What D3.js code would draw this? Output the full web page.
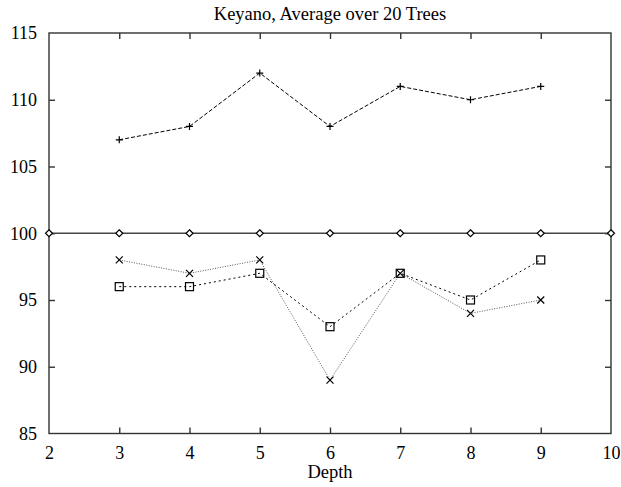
<!DOCTYPE html>
<html>
<head>
<meta charset="utf-8">
<script src="https://cdn.jsdelivr.net/npm/d3@7"></script>
<style>
  html, body { margin: 0; padding: 0; background: #fff; }
  svg { display: block; }
  text { font-family: "Liberation Serif", "Times New Roman", serif; fill: #000; }
</style>
</head>
<body>
<svg id="chart" width="621" height="487"></svg>
<script>
// Chart data
const title = "Keyano, Average over 20 Trees";
const xLabel = "Depth";
const depths = [3, 4, 5, 6, 7, 8, 9];
const baselineDepths = [2, 3, 4, 5, 6, 7, 8, 9, 10];
const baselineValues = [100, 100, 100, 100, 100, 100, 100, 100, 100];
const plusValues = [107, 108, 112, 108, 111, 110, 111];
const crossValues = [98, 97, 98, 89, 97, 94, 95];
const squareValues = [96, 96, 97, 93, 97, 95, 98];
const xTicks = [2, 3, 4, 5, 6, 7, 8, 9, 10];
const yTicks = [85, 90, 95, 100, 105, 110, 115];

const svg = d3.select("#chart");
const plotLeft = 49, plotRight = 611, plotTop = 33, plotBottom = 433.5;

const x = d3.scaleLinear().domain([2, 10]).range([plotLeft, plotRight]);
const y = d3.scaleLinear().domain([85, 115]).range([plotBottom, plotTop]);

const axisColor = "#333";
const tickLen = 6;

// Frame
svg.append("rect")
  .attr("x", plotLeft).attr("y", plotTop)
  .attr("width", plotRight - plotLeft).attr("height", plotBottom - plotTop)
  .attr("fill", "none").attr("stroke", axisColor).attr("stroke-width", 1.4);

// Axes with inward ticks, mirrored on the opposite side
const gBottom = svg.append("g").attr("transform", `translate(0,${plotBottom})`)
  .call(d3.axisBottom(x).tickValues(xTicks).tickFormat(d3.format("d"))
    .tickSizeInner(-tickLen).tickSizeOuter(0).tickPadding(13));
const gTop = svg.append("g").attr("transform", `translate(0,${plotTop})`)
  .call(d3.axisTop(x).tickValues(xTicks).tickFormat("")
    .tickSizeInner(-tickLen).tickSizeOuter(0));
const gLeft = svg.append("g").attr("transform", `translate(${plotLeft},0)`)
  .call(d3.axisLeft(y).tickValues(yTicks).tickFormat(d3.format("d"))
    .tickSizeInner(-tickLen).tickSizeOuter(0).tickPadding(12));
const gRight = svg.append("g").attr("transform", `translate(${plotRight},0)`)
  .call(d3.axisRight(y).tickValues(yTicks).tickFormat("")
    .tickSizeInner(-tickLen).tickSizeOuter(0));

[gBottom, gTop, gLeft, gRight].forEach(g => {
  g.select(".domain").remove();
  g.selectAll(".tick line").attr("stroke", axisColor).attr("stroke-width", 1.4);
  g.selectAll(".tick text")
    .style("font-family", "'Liberation Serif', 'Times New Roman', serif")
    .style("font-size", "18px").attr("fill", "#000");
});
gBottom.selectAll(".tick text").attr("dy", "0.71em");

// Ticks at the frame corners would sit on the border; drop them
gBottom.selectAll(".tick line").filter(d => d === 2 || d === 10).remove();
gTop.selectAll(".tick line").filter(d => d === 2 || d === 10).remove();
gLeft.selectAll(".tick line").filter(d => d === 85 || d === 115).remove();
gRight.selectAll(".tick line").filter(d => d === 85 || d === 115).remove();

// Title and axis label
svg.append("text").attr("x", (plotLeft + plotRight) / 2).attr("y", 20)
  .attr("text-anchor", "middle").style("font-size", "18.5px").text(title);
svg.append("text").attr("x", (plotLeft + plotRight) / 2).attr("y", 478)
  .attr("text-anchor", "middle").style("font-size", "18.5px").text(xLabel);

const line = d3.line().x(d => x(d[0])).y(d => y(d[1]));
const zip = (xs, ys) => xs.map((v, i) => [v, ys[i]]);

// Baseline series (diamonds, solid)
const baseData = zip(baselineDepths, baselineValues);
svg.append("path").datum(baseData).attr("d", line)
  .attr("fill", "none").attr("stroke", "#444").attr("stroke-width", 1.5);
svg.selectAll(".diamond").data(baseData).enter().append("path")
  .attr("transform", d => `translate(${x(d[0])},${y(d[1])})`)
  .attr("d", "M0,-3.5L3.5,0L0,3.5L-3.5,0Z")
  .attr("fill", "#fff").attr("stroke", "#000").attr("stroke-width", 1.2);

// Plus series (dashed)
const plusData = zip(depths, plusValues);
svg.append("path").datum(plusData).attr("d", line)
  .attr("fill", "none").attr("stroke", "#000").attr("stroke-width", 1)
  .attr("stroke-dasharray", "4,2");
svg.selectAll(".plus").data(plusData).enter().append("path")
  .attr("transform", d => `translate(${x(d[0])},${y(d[1])})`)
  .attr("d", "M-3.5,0H3.5M0,-3.5V3.5")
  .attr("stroke", "#000").attr("stroke-width", 1.2);

// Cross series (fine dotted)
const crossData = zip(depths, crossValues);
svg.append("path").datum(crossData).attr("d", line)
  .attr("fill", "none").attr("stroke", "#555").attr("stroke-width", 1)
  .attr("stroke-dasharray", "1,1.5");
svg.selectAll(".cross").data(crossData).enter().append("path")
  .attr("transform", d => `translate(${x(d[0])},${y(d[1])})`)
  .attr("d", "M-3.5,-3.5L3.5,3.5M-3.5,3.5L3.5,-3.5")
  .attr("stroke", "#000").attr("stroke-width", 1.2);

// Square series (short dashes)
const squareData = zip(depths, squareValues);
svg.append("path").datum(squareData).attr("d", line)
  .attr("fill", "none").attr("stroke", "#000").attr("stroke-width", 1)
  .attr("stroke-dasharray", "2,3");
svg.selectAll(".square").data(squareData).enter().append("rect")
  .attr("x", d => x(d[0]) - 4).attr("y", d => y(d[1]) - 4)
  .attr("width", 8).attr("height", 8)
  .attr("fill", "none").attr("stroke", "#000").attr("stroke-width", 1.2);
</script>
</body>
</html>
